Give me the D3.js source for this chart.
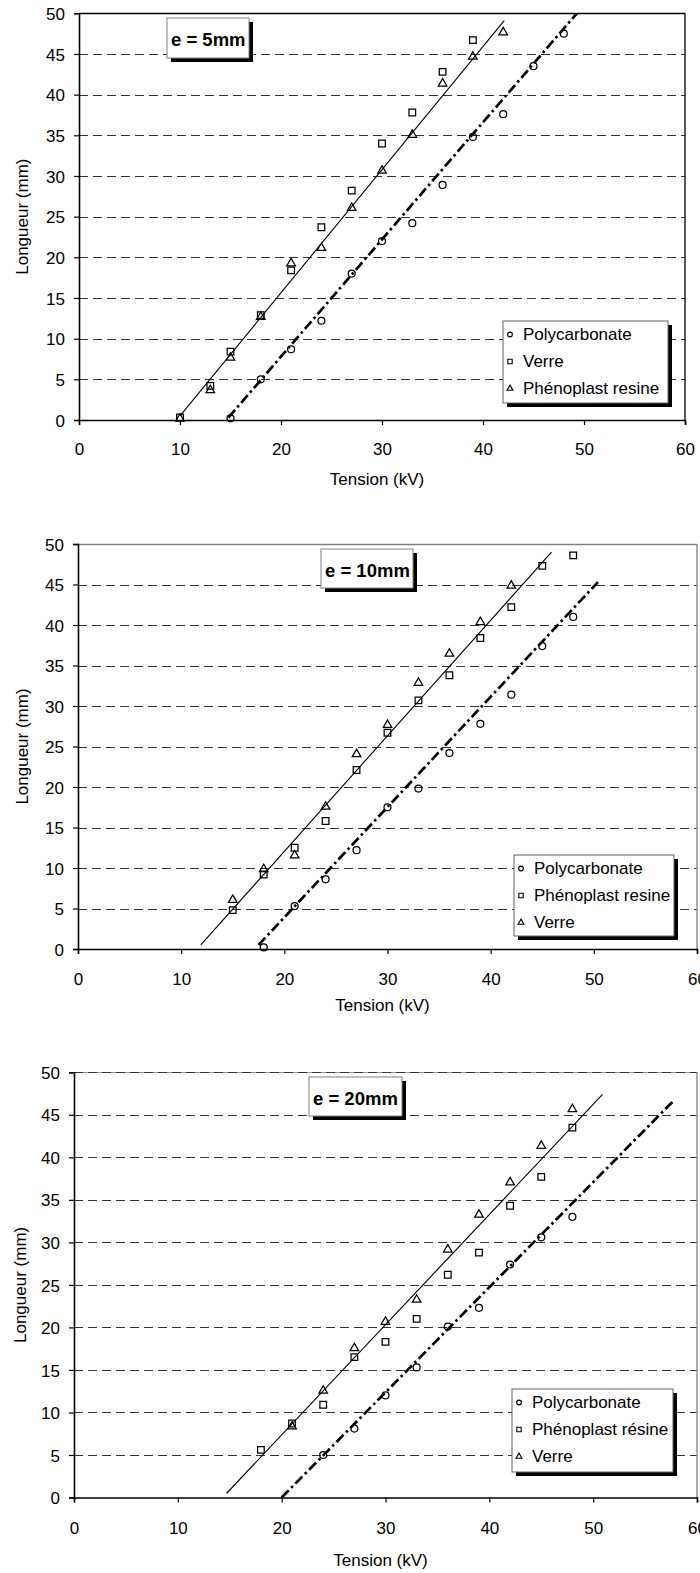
<!DOCTYPE html>
<html><head><meta charset="utf-8">
<script src="https://cdn.jsdelivr.net/npm/d3@7"></script>
<style>
body{margin:0;background:#fff}
svg text{font-family:"Liberation Sans",Arial,sans-serif;fill:#000}
</style>
</head><body>
<svg id="c" width="700" height="1573"></svg>
<script>
// ---------- data ----------
const xTicks = [0, 10, 20, 30, 40, 50, 60];
const yTicks = [0, 5, 10, 15, 20, 25, 30, 35, 40, 45, 50];
const xTitle = "Tension (kV)";
const yTitle = "Longueur (mm)";
const panelTitles = ["e = 5mm", "e = 10mm", "e = 20mm"];

// Panel 1 (e = 5mm)
const p1Names = ["Polycarbonate", "Verre", "Phénoplast resine"];
const p1PolyV = [15, 18, 21, 24, 27, 30, 33, 36, 39, 42, 45, 48];
const p1PolyL = [0.2, 5.0, 8.7, 12.2, 18.0, 22.0, 24.2, 28.9, 34.8, 37.6, 43.5, 47.5];
const p1VerreV = [10, 13, 15, 18, 21, 24, 27, 30, 33, 36, 39];
const p1VerreL = [0.3, 4.2, 8.4, 12.9, 18.4, 23.7, 28.2, 34.0, 37.8, 42.8, 46.7];
const p1PhenoV = [10, 13, 15, 18, 21, 24, 27, 30, 33, 36, 39, 42];
const p1PhenoL = [0.1, 3.6, 7.6, 12.6, 19.2, 21.1, 26.0, 30.6, 35.0, 41.3, 44.6, 47.6];
const p1FitSolid = [[10.0, 0.5], [42.1, 49.1]];
const p1FitDash = [[14.8, 0.3], [49.3, 50.0]];

// Panel 2 (e = 10mm)
const p2Names = ["Polycarbonate", "Phénoplast resine", "Verre"];
const p2PolyV = [18, 21, 24, 27, 30, 33, 36, 39, 42, 45, 48];
const p2PolyL = [0.2, 5.3, 8.6, 12.2, 17.5, 19.8, 24.2, 27.8, 31.4, 37.4, 41.0];
const p2PhenoV = [15, 18, 21, 24, 27, 30, 33, 36, 39, 42, 45, 48];
const p2PhenoL = [4.8, 9.2, 12.5, 15.8, 22.1, 26.7, 30.7, 33.8, 38.4, 42.2, 47.3, 48.6];
const p2VerreV = [15, 18, 21, 24, 27, 30, 33, 36, 39, 42];
const p2VerreL = [6.0, 9.8, 11.5, 17.5, 24.0, 27.6, 32.8, 36.4, 40.3, 44.8];
const p2FitSolid = [[11.9, 0.5], [45.9, 49.0]];
const p2FitDash = [[17.5, 0.5], [50.4, 45.3]];

// Panel 3 (e = 20mm)
const p3Names = ["Polycarbonate", "Phénoplast résine", "Verre"];
const p3PolyV = [24, 27, 30, 33, 36, 39, 42, 45, 48];
const p3PolyL = [5.0, 8.1, 12.0, 15.3, 20.1, 22.3, 27.4, 30.6, 33.0];
const p3PhenoV = [18, 21, 24, 27, 30, 33, 36, 39, 42, 45, 48];
const p3PhenoL = [5.6, 8.7, 10.9, 16.5, 18.3, 21.0, 26.2, 28.8, 34.3, 37.7, 43.5];
const p3VerreV = [21, 24, 27, 30, 33, 36, 39, 42, 45, 48];
const p3VerreL = [8.3, 12.5, 17.5, 20.6, 23.2, 29.1, 33.2, 37.0, 41.3, 45.6];
const p3FitSolid = [[14.7, 0.5], [50.9, 47.4]];
const p3FitDash = [[20.0, 0.0], [57.7, 46.6]];

// ---------- layout (positions only) ----------
const panels = [
  { x0: 79, x1: 685, y0: 420, y1: 13.3, border: "#000", topDash: false,
    title: panelTitles[0], tbox: [167, 18, 249, 58],
    legend: [503, 321, 165, 82], tickBase: 455, titleBase: 485, yTitleX: 28,
    names: p1Names,
    series: [
      { V: p1PolyV, L: p1PolyL, sym: "circle" },
      { V: p1VerreV, L: p1VerreL, sym: "square" },
      { V: p1PhenoV, L: p1PhenoL, sym: "triangle" }],
    solid: p1FitSolid, dash: p1FitDash },
  { x0: 78, x1: 697, y0: 949, y1: 544, border: "#808080", topDash: false,
    title: panelTitles[1], tbox: [321, 549, 413, 588],
    legend: [514, 855, 160, 81], tickBase: 985, titleBase: 1011, yTitleX: 28,
    names: p2Names,
    series: [
      { V: p2PolyV, L: p2PolyL, sym: "circle" },
      { V: p2PhenoV, L: p2PhenoL, sym: "square" },
      { V: p2VerreV, L: p2VerreL, sym: "triangle" }],
    solid: p2FitSolid, dash: p2FitDash },
  { x0: 74, x1: 697, y0: 1497.5, y1: 1072.3, border: "#808080", topDash: true,
    title: panelTitles[2], tbox: [309, 1077, 402, 1116],
    legend: [512, 1389, 161, 83], tickBase: 1534, titleBase: 1566, yTitleX: 26,
    names: p3Names,
    series: [
      { V: p3PolyV, L: p3PolyL, sym: "circle" },
      { V: p3PhenoV, L: p3PhenoL, sym: "square" },
      { V: p3VerreV, L: p3VerreL, sym: "triangle" }],
    solid: p3FitSolid, dash: p3FitDash }
];

const svg = d3.select("#c");
const symMap = { circle: d3.symbolCircle, square: d3.symbolSquare, triangle: d3.symbolTriangle };
const symSize = { circle: 38, square: 44, triangle: 32 };
const legSize = { circle: 17, square: 19, triangle: 15 };
const FS = 17;

panels.forEach((p, pi) => {
  const x = d3.scaleLinear().domain([0, 60]).range([p.x0, p.x1]);
  const y = d3.scaleLinear().domain([0, 50]).range([p.y0, p.y1]);
  const g = svg.append("g");
  const clipId = "clip" + pi;
  g.append("clipPath").attr("id", clipId).append("rect")
    .attr("x", p.x0).attr("y", p.y1).attr("width", p.x1 - p.x0).attr("height", p.y0 - p.y1);

  // gridlines
  g.append("g").selectAll("line").data(yTicks.filter(t => t > 0 && t < 50)).join("line")
    .attr("x1", p.x0).attr("x2", p.x1)
    .attr("y1", d => Math.round(y(d)) + 0.5).attr("y2", d => Math.round(y(d)) + 0.5)
    .attr("stroke", "#333").attr("stroke-width", 1).attr("stroke-dasharray", "9,5")
    .attr("shape-rendering", "crispEdges");

  // plot border top/right
  const yTop = Math.round(y(50)) + 0.5;
  if (p.topDash) {
    g.append("line").attr("x1", p.x0).attr("x2", p.x1).attr("y1", yTop).attr("y2", yTop)
      .attr("stroke", "#9a9a9a").attr("stroke-width", 1).attr("shape-rendering", "crispEdges");
    g.append("line").attr("x1", p.x0).attr("x2", p.x1).attr("y1", yTop).attr("y2", yTop)
      .attr("stroke", "#333").attr("stroke-width", 1).attr("stroke-dasharray", "9,5")
      .attr("shape-rendering", "crispEdges");
  } else {
    g.append("line").attr("x1", p.x0).attr("x2", p.x1).attr("y1", yTop).attr("y2", yTop)
      .attr("stroke", p.border).attr("stroke-width", 1.3);
  }
  g.append("line").attr("x1", p.x1).attr("x2", p.x1).attr("y1", y(50)).attr("y2", y(0))
    .attr("stroke", p.border).attr("stroke-width", 1.3);

  // axes
  const yAx = g.append("g").attr("transform", `translate(${p.x0},0)`)
    .call(d3.axisLeft(y).tickValues(yTicks).tickSize(5).tickPadding(9).tickFormat(d3.format("d")));
  const xAx = g.append("g").attr("transform", `translate(0,${p.y0})`)
    .call(d3.axisBottom(x).tickValues(xTicks).tickSize(5).tickFormat(d3.format("d")));
  [yAx, xAx].forEach(a => {
    a.select(".domain").attr("stroke", "#000").attr("stroke-width", 1.6);
    a.selectAll(".tick line").attr("stroke", "#000").attr("stroke-width", 1.2);
    a.selectAll("text").attr("font-size", FS).attr("font-family", '"Liberation Sans",Arial,sans-serif').attr("fill", "#000");
  });
  xAx.selectAll(".tick text").attr("dy", 0).attr("y", p.tickBase - p.y0);
  yAx.selectAll(".tick text").attr("dy", "0.36em");

  // axis titles
  g.append("text").attr("x", (p.x0 + p.x1) / 2 - 5).attr("y", p.titleBase)
    .attr("text-anchor", "middle").attr("font-size", FS).text(xTitle);
  g.append("text").attr("transform", `translate(${p.yTitleX},${(p.y0 + p.y1) / 2}) rotate(-90)`)
    .attr("text-anchor", "middle").attr("font-size", FS).text(yTitle);

  // fit lines
  const line = d3.line().x(d => x(d[0])).y(d => y(d[1]));
  const fits = g.append("g").attr("clip-path", `url(#${clipId})`);
  fits.append("path").attr("d", line(p.solid)).attr("fill", "none")
    .attr("stroke", "#000").attr("stroke-width", 1.1);
  fits.append("path").attr("d", line(p.dash)).attr("fill", "none")
    .attr("stroke", "#000").attr("stroke-width", 2.7).attr("stroke-dasharray", "10,3.5,2.5,3.5");

  // markers
  p.series.forEach(s => {
    const pts = s.V.map((v, i) => [v, s.L[i]]);
    g.append("g").selectAll("path").data(pts).join("path")
      .attr("d", d3.symbol().type(symMap[s.sym]).size(symSize[s.sym]))
      .attr("transform", d => `translate(${x(d[0])},${y(d[1]) + (s.sym === "triangle" ? -0.5 : 0)})`)
      .attr("fill", "none").attr("stroke", "#000").attr("stroke-width", 1.25);
  });

  // title box
  const [bl, bt, br, bb] = p.tbox;
  g.append("rect").attr("x", bl + 4).attr("y", bt + 4).attr("width", br - bl).attr("height", bb - bt).attr("fill", "#000");
  g.append("rect").attr("x", bl).attr("y", bt).attr("width", br - bl).attr("height", bb - bt)
    .attr("fill", "#fff").attr("stroke", "#808080").attr("stroke-width", 1);
  g.append("text").attr("x", bl + 4).attr("y", bt + 27.5).attr("font-size", 18.5)
    .attr("font-weight", "bold").text(p.title);

  // legend
  const [ll, lt, lw, lh] = p.legend;
  g.append("rect").attr("x", ll + 4).attr("y", lt + 4).attr("width", lw).attr("height", lh).attr("fill", "#000");
  g.append("rect").attr("x", ll).attr("y", lt).attr("width", lw).attr("height", lh)
    .attr("fill", "#fff").attr("stroke", "#606060").attr("stroke-width", 1);
  p.series.forEach((s, i) => {
    const by = lt + 18.5 + i * 27;
    g.append("path").attr("d", d3.symbol().type(symMap[s.sym]).size(legSize[s.sym]))
      .attr("transform", `translate(${ll + 7},${by - 5})`)
      .attr("fill", "none").attr("stroke", "#000").attr("stroke-width", 1.1);
    g.append("text").attr("x", ll + 20).attr("y", by).attr("font-size", FS).text(p.names[i]);
  });
});
</script>
</body></html>
